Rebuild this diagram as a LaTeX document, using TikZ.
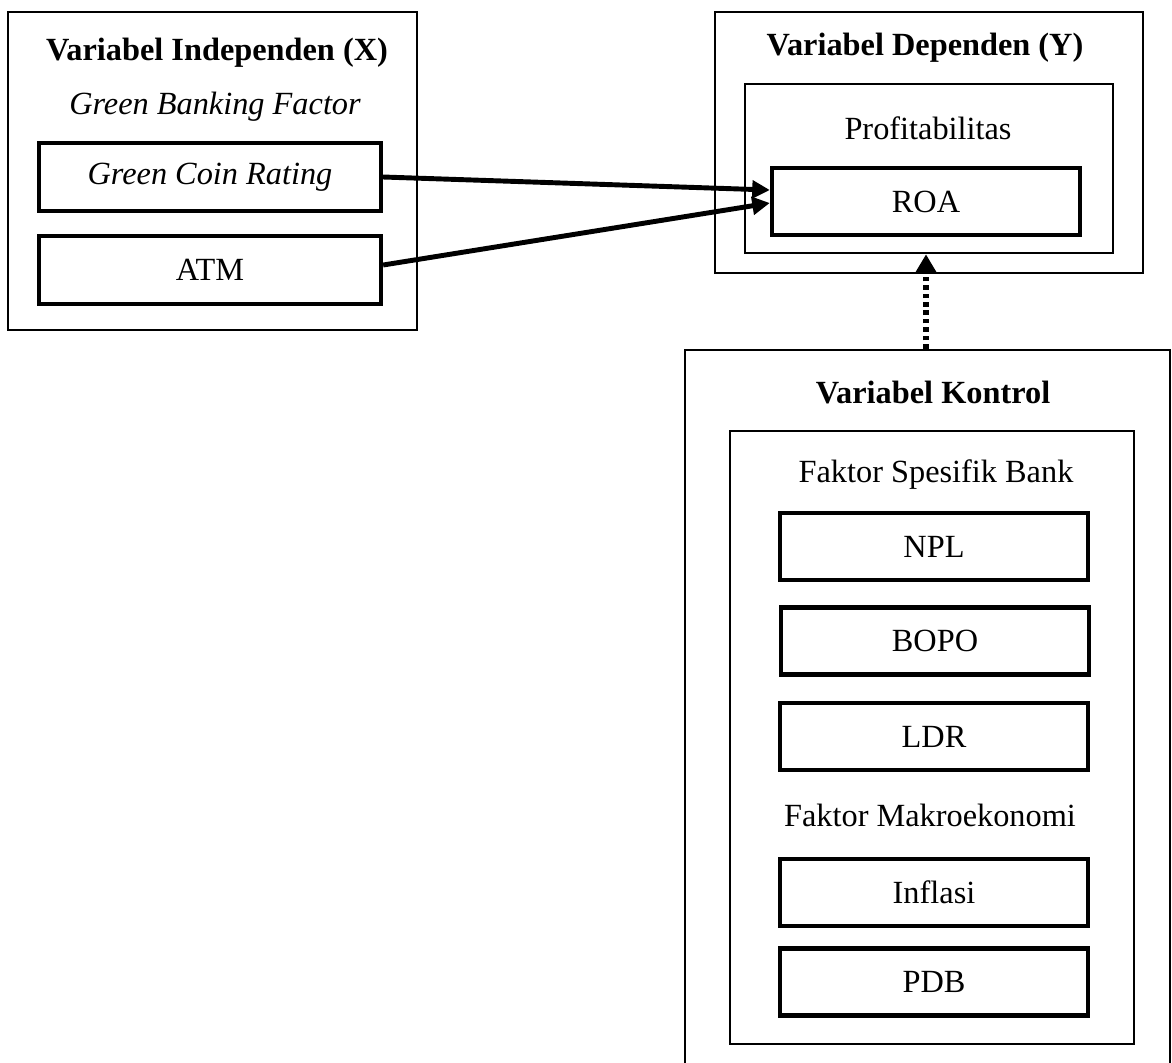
\documentclass[tikz,border=0pt]{standalone}
\usepackage{fontspec}
\setmainfont{Liberation Serif}
\usetikzlibrary{calc,arrows.meta}
\tikzset{
  teks/.style={font=\fontsize{18.4}{22}\selectfont},
  judul/.style={font=\fontsize{18.4}{22}\selectfont\bfseries},
  miring/.style={font=\fontsize{18.4}{22}\selectfont\itshape},
  kotak/.style={draw,line width=1.5pt,inner sep=0pt},
  item/.style={draw,line width=2.5pt,minimum width=6.16cm,minimum height=1.34cm,inner sep=0pt,teks},
  panah/.style={line width=2.8pt,-{Triangle[length=10pt,width=10pt]}},
  titik/.style={line width=3.4pt,dash pattern=on 2.6pt off 2.2pt,-{Triangle[length=10pt,width=11pt]}}
}
\begin{document}
\begin{tikzpicture}[x=0.02cm,y=-0.02cm]
		\useasboundingbox (0,0) rectangle (1172,1062);
		\clip (0,0) rectangle (1172,1062);
		
		\node[kotak,minimum width=8.18cm,minimum height=6.36cm] (X) at (212.5,171) {};
		\node[judul] (tX) at (217,53) {Variabel Independen (X)};
		\node[miring] (gbf) at (215,107) {Green Banking Factor};
		\node[item,minimum width=6.84cm,minimum height=1.36cm,miring] (gcr) at (210,177) {Green Coin Rating};
		\node[item,minimum width=6.84cm,minimum height=1.36cm] (atm) at (210,270) {ATM};
		
		\node[kotak,minimum width=8.56cm,minimum height=5.22cm] (Y) at (929,142.5) {};
		\node[judul] (tY) at (925,48) {Variabel Dependen (Y)};
		\node[kotak,minimum width=7.36cm,minimum height=3.38cm] (prof) at (929,168.5) {};
		\node[teks] (tprof) at (928,128) {Profitabilitas};
		\node[item] (roa) at (926,201.5) {ROA};
		
		\node[kotak,minimum width=9.7cm,minimum height=14.6cm] (K) at (927.5,715) {};
		\node[judul] (tK) at (933,393) {Variabel Kontrol};
		\node[kotak,minimum width=8.08cm,minimum height=12.26cm] (faktor) at (932,737.5) {};
		\node[teks] (fsb) at (936,475) {Faktor Spesifik Bank};
		\node[item] (npl) at (934,546.5) {NPL};
		\node[item] (bopo) at (935,641) {BOPO};
		\node[item] (ldr) at (934,736.5) {LDR};
		\node[teks] (fm) at (930,815) {Faktor Makroekonomi};
		\node[item] (inf) at (934,892.5) {Inflasi};
		\node[item] (pdb) at (934,982) {PDB};
		
		\draw[panah] (gcr.east) -- ([yshift=0.23cm]roa.west);
		\draw[panah] ([yshift=0.1cm]atm.east) -- ([yshift=-0.03cm]roa.west);
		\draw[titik] (K.north -| roa.south) -- (prof.south -| roa.south);
\end{tikzpicture}
\end{document}
